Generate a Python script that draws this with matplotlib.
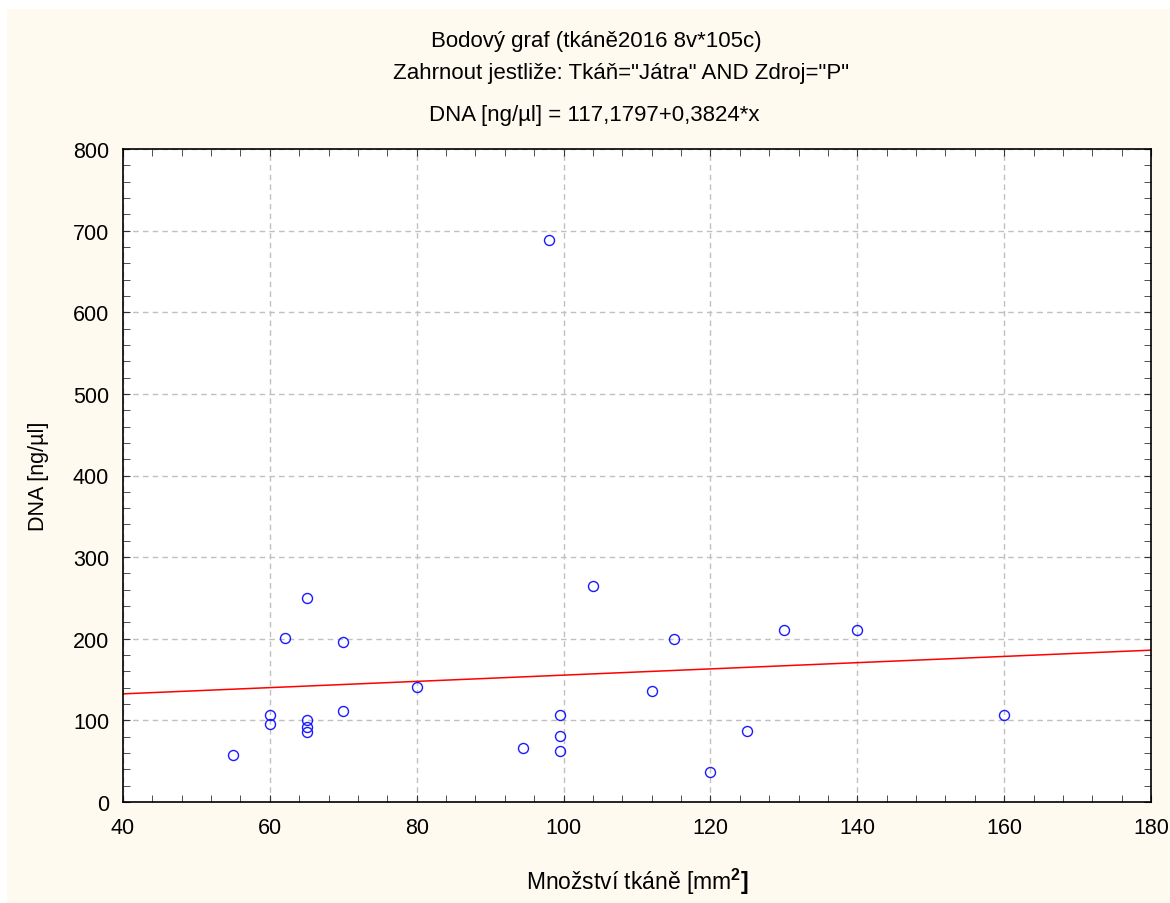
import matplotlib
matplotlib.use('Agg')
import matplotlib.pyplot as plt
from matplotlib.patches import Rectangle
from matplotlib.ticker import MultipleLocator
import numpy as np

plt.rcParams['font.family'] = ['Liberation Sans', 'DejaVu Sans']
plt.rcParams['mathtext.fontset'] = 'custom'
plt.rcParams['mathtext.rm'] = 'Liberation Sans'
plt.rcParams['mathtext.bf'] = 'Liberation Sans:bold'

# tissue amount [mm2] vs DNA [ng/ul], liver samples, source P
mnozstvi = [55, 60, 60, 62, 65, 65, 65, 65, 70, 70, 80,
            94.5, 98, 99.5, 99.5, 99.5, 104, 112, 115, 120, 125, 130, 140, 160]
dna = [57, 106, 96, 201, 250, 101, 92, 86, 196, 111, 141,
       66, 688, 106, 81, 62, 265, 136, 200, 37, 87, 211, 211, 107]

# linear fit reported by the stats package
b0 = 117.1797
b1 = 0.3824

title1 = 'Bodový graf (tkáně2016 8v*105c)'
title2 = 'Zahrnout jestliže: Tkáň="Játra" AND Zdroj="P"'
title3 = 'DNA [ng/µl] = 117,1797+0,3824*x'

fig = plt.figure(figsize=(11.7, 9.04), dpi=100, facecolor='white')
fig.patches.append(Rectangle((7/1170, 0), 1, 1 - 10/904, transform=fig.transFigure,
                             facecolor='#fffaf0', edgecolor='none', zorder=-10))

ax = fig.add_axes([123/1170, 1 - 803/904, 1028/1170, 653/904])
ax.set_facecolor('white')

xs = np.array([40, 180])
ax.plot(xs, b0 + b1 * xs, color='red', lw=1.1, zorder=2)
ax.plot(mnozstvi, dna, 'o', mfc='none', mec='#1a1aff', ms=7.2, mew=1.0, zorder=3)

ax.set_xlim(40, 180)
ax.set_ylim(0, 800)
ax.xaxis.set_major_locator(MultipleLocator(20))
ax.xaxis.set_minor_locator(MultipleLocator(4))
ax.yaxis.set_major_locator(MultipleLocator(100))
ax.yaxis.set_minor_locator(MultipleLocator(20))
ax.tick_params(which='both', direction='in', top=True, right=True, color='#333333')
ax.tick_params(which='major', length=5, labelsize=15.5)
ax.tick_params(which='minor', length=5)
ax.tick_params(axis='x', which='major', pad=11)
ax.tick_params(axis='y', which='major', pad=10)
ax.grid(True, which='major', color='#c0c0c0', ls=(0, (4, 3)), lw=1)
ax.set_axisbelow(True)
for s in ax.spines.values():
    s.set_linewidth(1.2)
    s.set_color('black')

ax.set_xlabel(r'Množství tkáně [mm$^{\mathbf{2}}\mathbf{]}$', fontsize=16.5, labelpad=20)
ax.set_ylabel('DNA [ng/µl]', fontsize=15.5, labelpad=17)

fig.text(596/1170, 1 - 42/904, title1, ha='center', va='center', fontsize=16)
fig.text(621/1170, 1 - 73/904, title2, ha='center', va='center', fontsize=16)
fig.text(594/1170, 1 - 115/904, title3, ha='center', va='center', fontsize=16)

fig.savefig('out.png', dpi=100, facecolor=fig.get_facecolor())
